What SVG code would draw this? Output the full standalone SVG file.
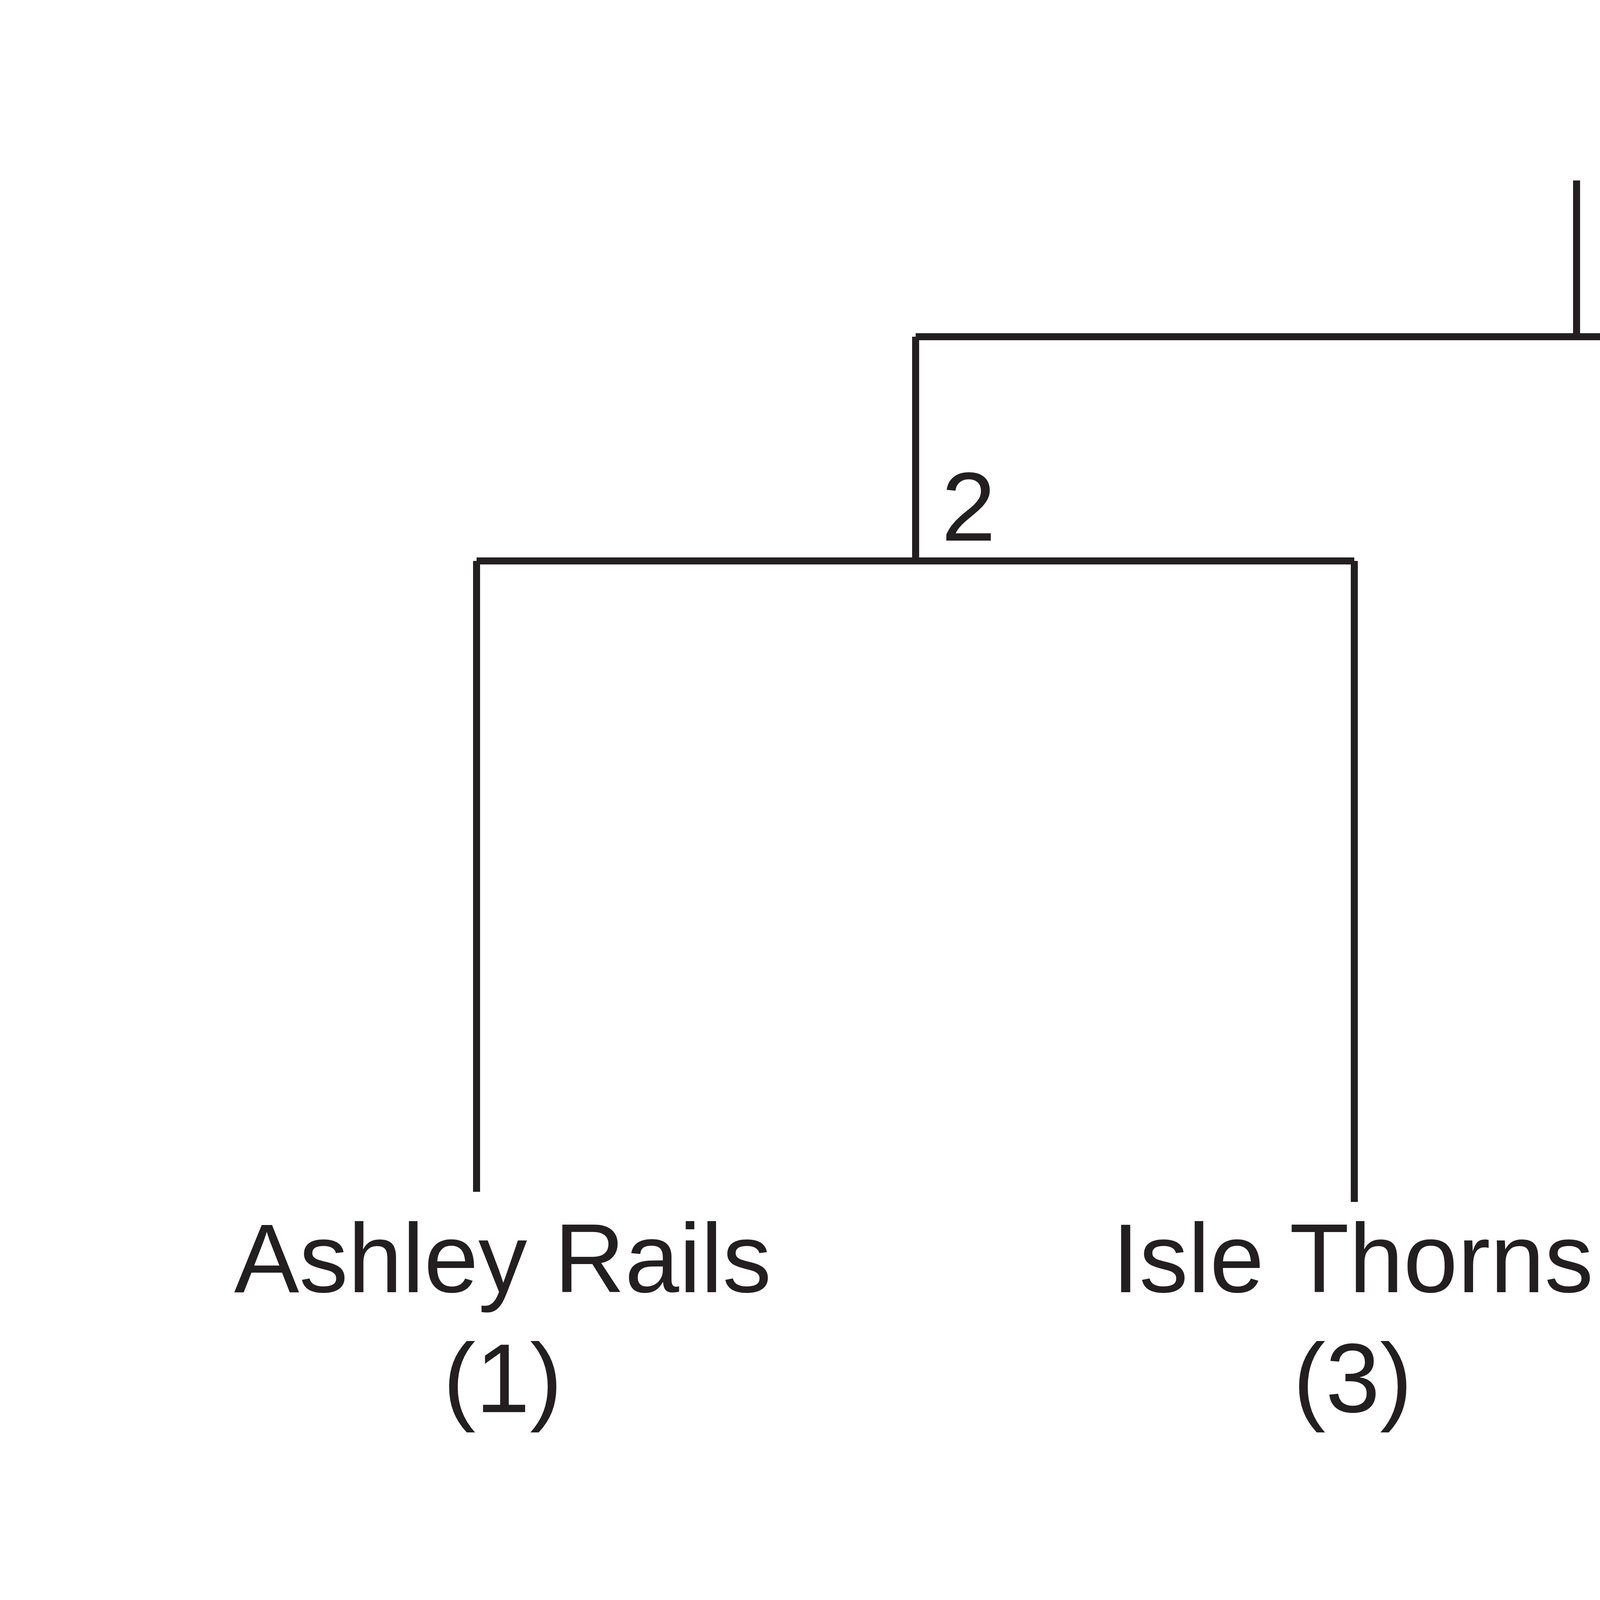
<svg xmlns="http://www.w3.org/2000/svg" width="8000" height="4500" viewBox="0 0 8000 4500">
<style>
.c{fill:none;stroke:#231f20;stroke-width:18}
.t{font-family:"Liberation Sans",Arial,sans-serif;font-size:250px;fill:#231f20}
.m{text-anchor:middle}
</style>
<rect width="8000" height="4500" fill="#fff"/>
<g id="connectors">
<path class="c" d="M4036 462V862M2344 862H5969M2344 862V1436M5969 862V1400M1220 1436H3467M1220 1436V3051M3467 1436V3077M4851 1436H7097M4851 1436V3051M7097 1436V3077"/>
</g>
<g id="n1"><text class="t" x="4118" y="805">1</text></g>
<g id="n2"><text class="t" x="2410" y="1384">2</text></g>
<g id="n3"><text class="t" x="6052" y="1374">3</text></g>
<g id="ashley"><text class="t m" x="1287" y="3308">Ashley Rails</text><text class="t m" x="1287" y="3615">(1)</text></g>
<g id="isle"><text class="t m" x="3463" y="3308">Isle Thorns</text><text class="t m" x="3463" y="3615">(3)</text></g>
<g id="llandeyrn"><text class="t m" x="4853" y="3308">Llandeyrn</text><text class="t m" x="4853" y="3615">(4)</text></g>
<g id="caldicot"><text class="t m" x="7095" y="3308">Caldicot</text><text class="t m" x="7095" y="3615">(2)</text></g>
</svg>
